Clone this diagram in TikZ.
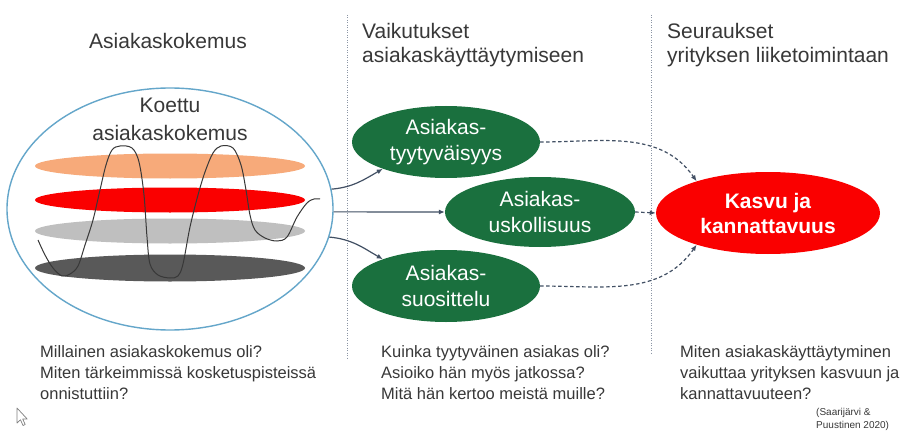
\documentclass[tikz,border=0pt]{standalone}
\usepackage{fontspec}
\setmainfont{Liberation Sans}
\usetikzlibrary{shapes.geometric,arrows.meta}
\definecolor{txt}{RGB}{56,56,56}
\definecolor{grn}{RGB}{26,112,62}
\definecolor{con}{RGB}{66,80,100}
\definecolor{sep}{RGB}{140,150,165}
\definecolor{bluering}{RGB}{100,166,202}
\definecolor{orng}{RGB}{247,170,122}
\definecolor{lgray}{RGB}{191,191,191}
\definecolor{dgray}{RGB}{89,89,89}
\definecolor{rd}{RGB}{250,0,0}
\begin{document}
\begin{tikzpicture}[x=1pt,y=-1pt,
  hdr/.style={font=\fontsize{21}{25}\selectfont, text=txt, inner sep=0pt, anchor=base west},
  btxt/.style={font=\fontsize{16.5}{21}\selectfont, text=txt, inner sep=0pt, anchor=base west},
  oval/.style={ellipse, inner sep=0pt, align=center, font=\fontsize{21}{26}\selectfont},
  gbox/.style={oval, fill=grn, text=white, minimum width=188pt, minimum height=72pt},
  layer/.style={ellipse, inner sep=0pt, minimum width=270pt, minimum height=25pt},
  conn/.style={draw=con, line width=1.2pt, -{Latex[length=6pt,width=5pt]}},
  dconn/.style={conn, dash pattern=on 3.5pt off 2.5pt},
  sepline/.style={draw=sep, line width=0.8pt, dash pattern=on 1pt off 1.5pt}]
\useasboundingbox[fill=white] (0,0) rectangle (907,433);

% separators
\coordinate (s1t) at (347,15); \coordinate (s1b) at (347,358);
\coordinate (s2t) at (651,15); \coordinate (s2b) at (651,354);
\draw[sepline] (s1t) -- (s1b);
\draw[sepline] (s2t) -- (s2b);

% headers
\node[hdr, anchor=base] (h1) at (168,49) {Asiakaskokemus};
\node[hdr] (h2a) at (362,39) {Vaikutukset};
\node[hdr] (h2b) at (362,63) {asiakaskäyttäytymiseen};
\node[hdr] (h3a) at (667,39) {Seuraukset};
\node[hdr] (h3b) at (667,63) {yrityksen liiketoimintaan};

% big experience ellipse
\node[ellipse, draw=bluering, line width=1.4pt, minimum width=326pt, minimum height=242pt, inner sep=0pt] (big) at (170,209) {};
\node[layer, fill=orng] (l1) at (170,166) {};
\node[layer, fill=rd] (l2) at (170,200) {};
\node[layer, fill=lgray] (l3) at (170,231) {};
\node[layer, fill=dgray, minimum height=27pt] (l4) at (170,268) {};
\draw[txt, line width=1pt] plot[smooth, tension=0.55] coordinates {
 (38,240) (45,255) (53,268) (62,276) (70,274) (78,266) (85,245) (93,220)
 (100,190) (106,165) (112,150) (120,146) (132,148) (139,162) (144,195)
 (147,237) (150,264) (158,275) (170,278) (178,276) (183,264) (190,227)
 (198,195) (205,172) (213,153) (221,146) (233,148) (241,165) (246,190)
 (250,215) (255,230) (265,238) (277,241) (287,237) (297,217) (307,203)
 (314,199) (320,199)};
\node[hdr, anchor=base] (k1) at (170,113) {Koettu};
\node[hdr, anchor=base] (k2) at (170,140) {asiakaskokemus};

% green effect ellipses
\node[gbox] (e1) at (446,142) {Asiakas-\\tyytyväisyys};
\node[gbox, minimum width=190pt, minimum height=70pt] (e2) at (540,212) {Asiakas-\\uskollisuus};
\node[gbox] (e3) at (446,286) {Asiakas-\\suosittelu};

% result ellipse
\node[oval, fill=rd, text=white, font=\fontsize{21}{25}\selectfont\bfseries, minimum width=224pt, minimum height=82pt] (res) at (768,213) {Kasvu ja\\kannattavuus};

% connectors
\draw[conn] (big.7) to[out=5, in=210] (e1.203);
\draw[conn] (big.-1) -- (e2.west);
\draw[conn] (big.-10) to[out=-5, in=150] (e3.157);
\draw[dconn] (e1.east) to[out=0, in=125] (res.156);
\draw[dconn] (e2.east) -- (res.west);
\draw[dconn] (e3.east) to[out=0, in=235] (res.204);

% bottom questions
\node[btxt] (q1) at (40,357) {Millainen asiakaskokemus oli?};
\node[btxt] (q2) at (40,378) {Miten tärkeimmissä kosketuspisteissä};
\node[btxt] (q3) at (40,399) {onnistuttiin?};
\node[btxt] (m1) at (381,357) {Kuinka tyytyväinen asiakas oli?};
\node[btxt] (m2) at (381,378) {Asioiko hän myös jatkossa?};
\node[btxt] (m3) at (381,399) {Mitä hän kertoo meistä muille?};
\node[btxt] (r1) at (680,357) {Miten asiakaskäyttäytyminen};
\node[btxt] (r2) at (680,378) {vaikuttaa yrityksen kasvuun ja};
\node[btxt] (r3) at (680,399) {kannattavuuteen?};
\node[btxt, font=\fontsize{10}{12}\selectfont] (c1) at (816,415) {(Saarijärvi \&};
\node[btxt, font=\fontsize{10}{12}\selectfont] (c2) at (816,428) {Puustinen 2020)};

% mouse cursor
\draw[gray, fill=white, line width=0.7pt, line join=round]
  (17,408) -- (17,423) -- (20.5,419.8) -- (23,425.5) -- (25.2,424.5) -- (22.7,419) -- (27.2,419) -- cycle;
\end{tikzpicture}
\end{document}
